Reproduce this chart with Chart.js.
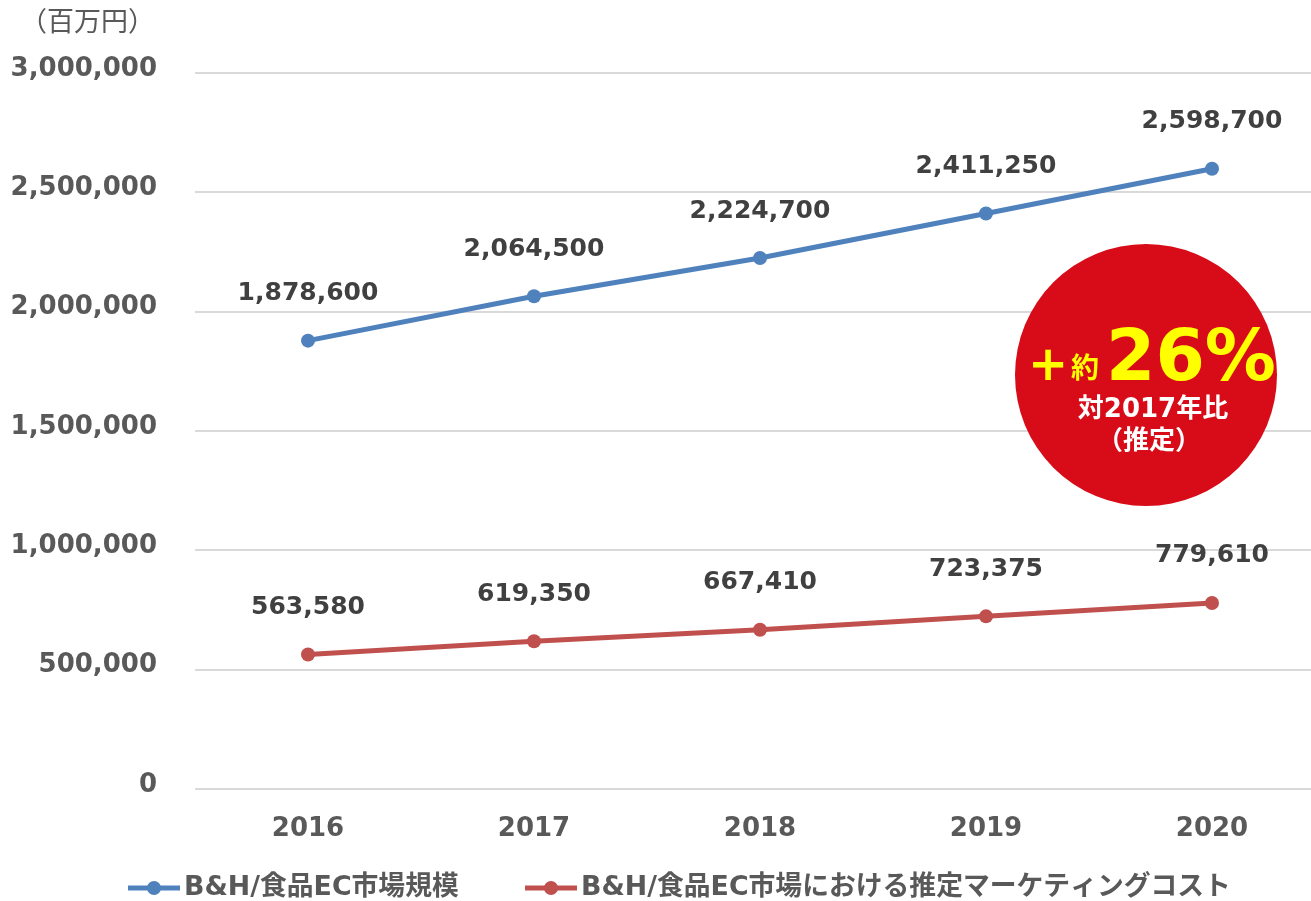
<!DOCTYPE html>
<html>
<head>
<meta charset="utf-8">
<script src="https://cdn.jsdelivr.net/npm/chart.js@4.4.1/dist/chart.umd.min.js"></script>
<style>
  html, body { margin: 0; padding: 0; background: #fff; overflow: hidden; }
</style>
</head>
<body>
<canvas id="chart" width="1332" height="901"></canvas>
<script>
const years = ['2016', '2017', '2018', '2019', '2020']
const marketSize = [1878600, 2064500, 2224700, 2411250, 2598700]
const marketingCost = [563580, 619350, 667410, 723375, 779610]
const seriesNames = ['B&H/食品EC市場規模', 'B&H/食品EC市場における推定マーケティングコスト']
const unitLabel = '（百万円）'

const FONT = "'DejaVu Sans', 'Noto Sans CJK JP', sans-serif"
const BLUE = '#4F81BD'
const RED = '#C0504D'

const fmt = v => v.toLocaleString('en-US')

// value labels, unit label, red badge and legend drawn on top
const overlay = {
    id: 'overlay',
    afterDatasetsDraw(chart){
        const ctx = chart.ctx
        ctx.save()
        ctx.font = 'bold 25px ' + FONT
        ctx.fillStyle = '#404040'
        ctx.textAlign = 'center'
        ctx.textBaseline = 'middle'
        chart.data.datasets.forEach((ds, i) => {
            chart.getDatasetMeta(i).data.forEach((pt, j) => {
                ctx.fillText(fmt(ds.data[j]), pt.x, pt.y - 47)
            })
        })
        ctx.restore()
    },
    afterDraw(chart){
        const ctx = chart.ctx
        ctx.save()

        // unit
        ctx.font = '27px ' + FONT
        ctx.fillStyle = '#595959'
        ctx.textAlign = 'left'
        ctx.textBaseline = 'middle'
        ctx.fillText(unitLabel, 20, 24)

        // red badge
        const cx = 1146, cy = 375, r = 131
        ctx.beginPath()
        ctx.arc(cx, cy, r, 0, Math.PI * 2)
        ctx.fillStyle = '#D70C18'
        ctx.fill()

        ctx.fillStyle = '#FFFF00'
        ctx.textBaseline = 'alphabetic'
        ctx.textAlign = 'left'
        ctx.font = 'bold 48px ' + FONT
        ctx.fillText('+', 1028, 380)
        ctx.font = 'bold 28px ' + FONT
        ctx.fillText('約', 1071, 378)
        ctx.font = 'bold 71px ' + FONT
        ctx.fillText('26%', 1106, 380)

        ctx.fillStyle = '#FFFFFF'
        ctx.textAlign = 'center'
        ctx.textBaseline = 'middle'
        ctx.font = 'bold 26px ' + FONT
        ctx.fillText('対2017年比', 1153, 410)
        ctx.fillText('（推定）', 1149, 442)

        // legend
        const colors = [BLUE, RED]
        const starts = [128, 525]
        ctx.font = 'bold 26.8px ' + FONT
        ctx.textAlign = 'left'
        chart.data.datasets.forEach((ds, i) => {
            const x = starts[i], y = 888
            ctx.strokeStyle = colors[i]
            ctx.lineWidth = 5
            ctx.beginPath()
            ctx.moveTo(x, y)
            ctx.lineTo(x + 52, y)
            ctx.stroke()
            ctx.beginPath()
            ctx.arc(x + 26, y, 7, 0, Math.PI * 2)
            ctx.fillStyle = colors[i]
            ctx.fill()
            ctx.fillStyle = '#595959'
            ctx.fillText(ds.label, x + 56, y)
        })
        ctx.restore()
    }
}

new Chart(document.getElementById('chart'), {
    type: 'line',
    data: {
        labels: years,
        datasets: [
            {
                label: seriesNames[0],
                data: marketSize,
                borderColor: BLUE,
                backgroundColor: BLUE,
                borderWidth: 5,
                pointRadius: 7,
                pointBorderWidth: 0,
                fill: false
            },
            {
                label: seriesNames[1],
                data: marketingCost,
                borderColor: RED,
                backgroundColor: RED,
                borderWidth: 5,
                pointRadius: 7,
                pointBorderWidth: 0,
                fill: false
            }
        ]
    },
    options: {
        responsive: false,
        animation: false,
        layout: { padding: { top: 73, right: 0, bottom: 52, left: 0 } },
        plugins: {
            legend: { display: false },
            tooltip: { enabled: false }
        },
        scales: {
            x: {
                offset: true,
                grid: { display: false, drawTicks: false },
                border: { display: false },
                ticks: {
                    padding: 25,
                    color: '#595959',
                    font: { family: FONT, size: 26, weight: 'bold' }
                },
                afterFit(scale){ scale.height = 60 }
            },
            y: {
                min: 0,
                max: 3000000,
                grid: { color: '#D9D9D9', lineWidth: 2, drawTicks: false },
                border: { display: false },
                ticks: {
                    stepSize: 500000,
                    padding: 38,
                    labelOffset: -4,
                    color: '#595959',
                    font: { family: FONT, size: 26, weight: 'bold' },
                    callback: v => fmt(v)
                },
                afterFit(scale){ scale.width = 195 }
            }
        }
    },
    plugins: [overlay]
})
</script>
</body>
</html>
